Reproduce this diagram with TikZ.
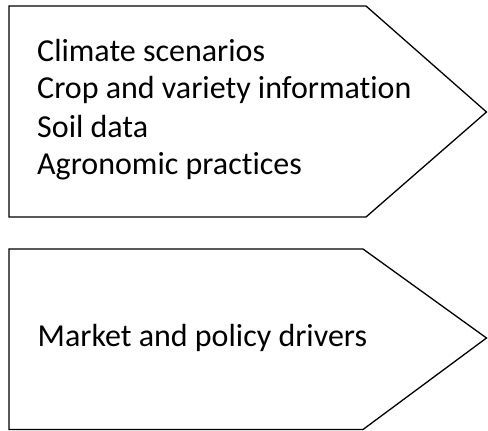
\documentclass[tikz,border=0pt]{standalone}
\usepackage{fontspec}
\setmainfont{Carlito}[Ligatures=NoCommon]
\begin{document}
\begin{tikzpicture}[x=1pt,y=-1pt,
  arrowbox/.style={draw=black,line width=1.3pt,line join=miter,fill=white},
  label/.style={anchor=base west,inner sep=0pt,font=\fontsize{32}{37.5}\selectfont}]
\useasboundingbox (0,0) rectangle (488,431);
\draw[arrowbox] (9,6) -- (366,6) -- (486.5,112) -- (366,217) -- (9,217) -- cycle;
\draw[arrowbox] (9,249) -- (363,249) -- (486.5,338) -- (363,429.5) -- (9,429.5) -- cycle;
\node[label] (l1) at (37,61) {Climate scenarios};
\node[label] (l2) at (37,98.5) {Crop and variety information};
\node[label] (l3) at (37,137) {Soil data};
\node[label] (l4) at (37,174.5) {Agronomic practices};
\node[label] (m1) at (37.5,346) {Market and policy drivers};
\end{tikzpicture}
\end{document}
